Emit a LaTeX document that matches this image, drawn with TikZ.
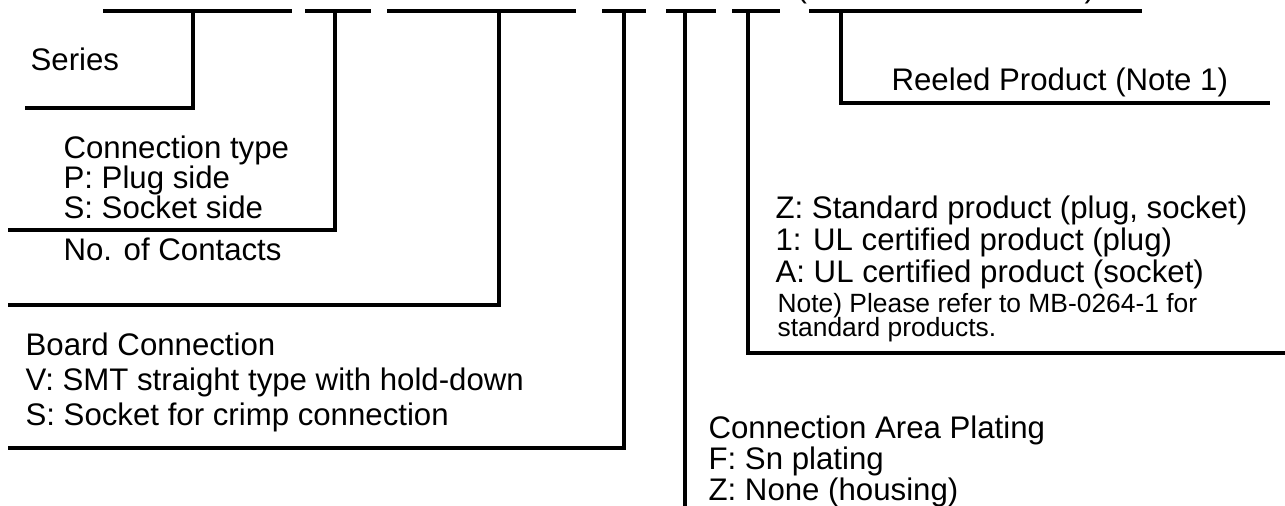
\documentclass[tikz,border=0pt]{standalone}
\usepackage{fontspec}
\setmainfont{Liberation Sans}

\begin{document}
\begin{tikzpicture}[%
    x=0.5pt, y=-0.5pt,
    line width=1.6pt,
    legend/.style={anchor=base west, inner sep=0pt, font=\fontsize{15.6}{18}\selectfont},
    remark/.style={anchor=base west, inner sep=0pt, font=\fontsize{13.2}{16}\selectfont}
  ]
    \useasboundingbox (0,0) rectangle (1285,506);
    \clip (0,0) rectangle (1285,506);

    % code fields along the top
    \foreach \a/\b in {103/292, 305/371, 387/576, 602/646, 666/716, 732/780, 809/1142}
      {\draw (\a,11) -- (\b,11);};
    \node[legend] (lparen) at (795,-2) {(};
    \node[legend] (rparen) at (1083,-2) {)};

    \coordinate (series-top)   at (193,11);
    \coordinate (ctype-top)    at (335,11);
    \coordinate (contact-top)  at (499,11);
    \coordinate (board-top)    at (624,11);
    \coordinate (plating-top)  at (685,11);
    \coordinate (product-top)  at (748,11);
    \coordinate (reel-top)     at (841,11);

    \coordinate (series-end)   at (25,108);
    \coordinate (ctype-end)    at (8,230);
    \coordinate (contact-end)  at (8,305);
    \coordinate (board-end)    at (8,448);
    \coordinate (plating-end)  at (685,506);
    \coordinate (product-end)  at (1285,353);
    \coordinate (reel-end)     at (1270,103);

    % leader lines
    \draw (series-top)  |- (series-end);
    \draw (ctype-top)   |- (ctype-end);
    \draw (contact-top) |- (contact-end);
    \draw (board-top)   |- (board-end);
    \draw (plating-top) -- (plating-end);
    \draw (product-top) |- (product-end);
    \draw (reel-top)    |- (reel-end);

    % descriptions
    \node[legend] (series) at (29,71) {Series};

    \foreach \t [count=\i from 0] in {Connection type, P: Plug side, S: Socket side}
      {\node[legend] (ctype-\i) at (62,159+30*\i) {\t};};

    \node[legend] (contact) at (62,261) {No. of Contacts};

    \foreach \t [count=\i from 0] in {Board Connection, V: SMT straight type with hold-down, S: Socket for crimp connection}
      {\node[legend] (board-\i) at (24,356+35*\i) {\t};};

    \foreach \t [count=\i from 0] in {Connection Area Plating, F: Sn plating, Z: None (housing)}
      {\node[legend] (plating-\i) at (707,439+31*\i) {\t};};

    \foreach \t [count=\i from 0] in {{Z: Standard product (plug, socket)}, 1: UL certified product (plug), A: UL certified product (socket)}
      {\node[legend] (product-\i) at (774,219+32*\i) {\t};};

    \node[remark] (note-0) at (776,313) {Note) Please refer to MB-0264-1 for};
    \node[remark] (note-1) at (776,337) {standard products.};

    \node[legend] (reel) at (890,91) {Reeled Product (Note 1)};
\end{tikzpicture}
\end{document}
